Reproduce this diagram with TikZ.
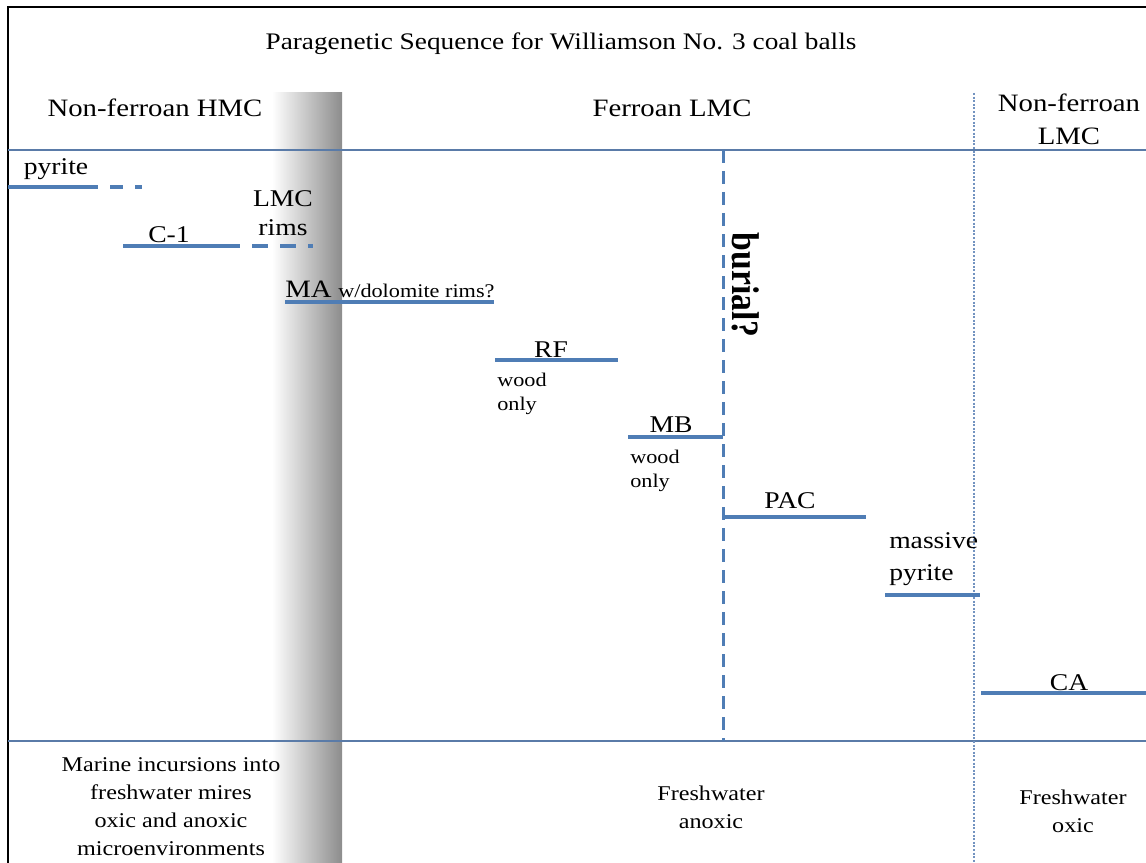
\documentclass[tikz,border=0pt]{standalone}
\usepackage{fontspec}
\setmainfont{Liberation Serif}[FakeStretch=1.15]
\newfontfamily\burialfont{Liberation Serif}[FakeStretch=0.87]
\usetikzlibrary{positioning}
\definecolor{barblue}{HTML}{4F7DB5}
\definecolor{ruleblue}{HTML}{5A7BA8}
\definecolor{dotblue}{HTML}{7393C0}

\begin{document}
\begin{tikzpicture}[
  x=0.75pt,y=-0.75pt,
  bar/.style={draw=barblue,line width=2.6pt},
  rule/.style={draw=ruleblue,line width=1pt},
  lbl/.style={font=\fontsize{18}{21}\selectfont,anchor=base,inner sep=0pt,align=center},
  head/.style={font=\fontsize{18.75}{24.75}\selectfont,anchor=base,inner sep=0pt,align=center},
  note/.style={font=\fontsize{14.5}{17.5}\selectfont,anchor=base west,inner sep=0pt,align=left},
  env/.style={font=\fontsize{15.75}{20.8}\selectfont,anchor=base,inner sep=0pt,align=center}
]
\useasboundingbox (0,0) rectangle (1146,863);

% shaded transition band
\shade[left color=white,right color=black!45] (272,93) rectangle (342,863);

% frame and rules
\draw[line width=1.8pt] (8,863) -- (8,7) -- (1146,7);
\draw[rule] (8,150) -- (1146,150);
\draw[rule] (8,741) -- (1146,741);
\draw[dotblue,line width=0.8pt,dash pattern=on 1.5pt off 1.2pt] (974,93) -- (974,863);

\node[font=\fontsize{17.8}{21}\selectfont,anchor=base,inner sep=0pt] (title) at (561,50) {Paragenetic Sequence for Williamson No. 3 coal balls};

% column heads (multi-line nodes sit on their last baseline)
\node[head] (hdrHMC) at (155,117) {Non-ferroan HMC};
\node[head] (hdrFLMC) at (672,117) {Ferroan LMC};
\node[head] (hdrNLMC) at (1069,145) {Non-ferroan\\LMC};

% burial
\draw[barblue,line width=2.25pt,dash pattern=on 9.75pt off 6pt] (723,150) -- (723,741);
\node[font=\burialfont\bfseries\fontsize{29}{30}\selectfont,rotate=-90,inner sep=0pt] (txtBurial) at (746,285) {burial?};

% mineral phases
\node[lbl] (txtPyrite) at (56,175) {pyrite};
\draw[bar] (8,187) -- (98,187);
\draw[bar,dash pattern=on 9.75pt off 9pt] (110,187) -- (142,187);

\node[lbl] (txtC1) at (169,243) {C-1};
\node[lbl] (txtRims) at (283,235) {LMC\\rims};
\draw[bar] (123,246) -- (240,246);
\draw[bar,dash pattern=on 12pt off 9pt] (252,246) -- (313,246);

\node[lbl,font=\fontsize{18.75}{21}\selectfont,anchor=base west] (txtMA) at (285,297) {MA};
\node[note] (noteMA) at (338,297) {w/dolomite rims?};
\draw[bar] (285,302) -- (494,302);

\node[lbl] (txtRF) at (551,357) {RF};
\node[note] (noteRF) at (497,410) {wood\\only};
\draw[bar] (495,360) -- (618,360);

\node[lbl] (txtMB) at (671,432) {MB};
\node[note] (noteMB) at (630,487) {wood\\only};
\draw[bar] (628,437) -- (723,437);

\node[lbl] (txtPAC) at (790,508) {PAC};
\draw[bar] (723,517) -- (866,517);

\node[lbl,anchor=base west,align=left,font=\fontsize{18}{24}\selectfont] (txtMassive) at (889,580) {massive\\pyrite};
\draw[bar] (885,595) -- (980,595);

\node[lbl] (txtCA) at (1069,690) {CA};
\draw[bar] (981,693) -- (1146,693);

% environments
\node[env] (envMarine) at (171,855) {Marine incursions into\\freshwater mires\\oxic and anoxic\\microenvironments};
\node[env] (envAnoxic) at (711,828) {Freshwater\\anoxic};
\node[env] (envOxic) at (1073,832) {Freshwater\\oxic};
\end{tikzpicture}
\end{document}
